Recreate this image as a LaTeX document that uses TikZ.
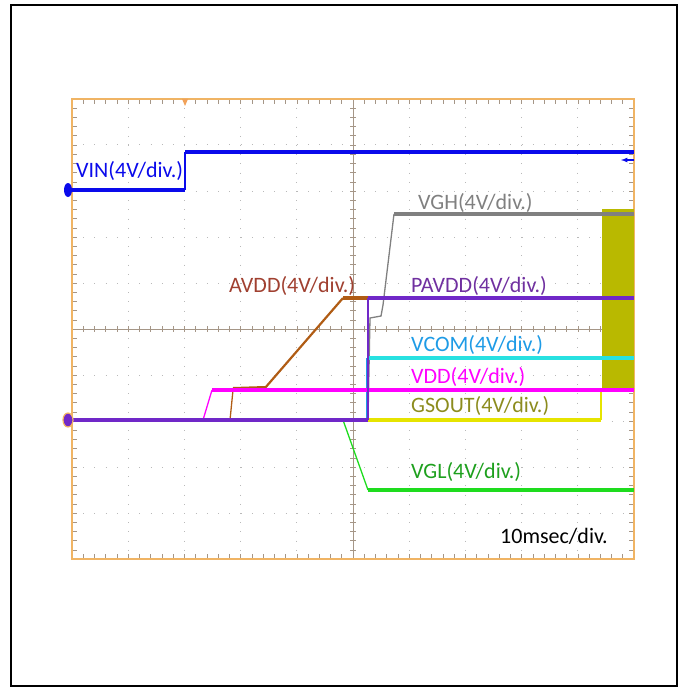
\documentclass[tikz,border=0pt]{standalone}
\usepackage{fontspec}
\setmainfont{Carlito}
\usepackage{tikz}
\usetikzlibrary{arrows,calc}
\usetikzlibrary{positioning}
\definecolor{scopeframe}{RGB}{240,180,100}
\definecolor{gridgray}{RGB}{185,185,185}
\definecolor{axisgray}{RGB}{165,150,135}
\definecolor{vincol}{RGB}{10,10,235}
\definecolor{vghcol}{RGB}{128,128,128}
\definecolor{avddtrace}{RGB}{176,92,20}
\definecolor{avddlabel}{RGB}{160,64,48}
\definecolor{pavddcol}{RGB}{112,40,200}
\definecolor{pavddlabel}{RGB}{112,48,160}
\definecolor{vcomtrace}{RGB}{40,225,225}
\definecolor{vcomlabel}{RGB}{30,155,230}
\definecolor{vddcol}{RGB}{255,0,255}
\definecolor{gsouttrace}{RGB}{230,228,0}
\definecolor{gsoutfill}{RGB}{185,185,0}
\definecolor{gsoutlabel}{RGB}{140,140,30}
\definecolor{vgltrace}{RGB}{30,220,30}
\definecolor{vgllabel}{RGB}{30,160,30}

\begin{document}
\begin{tikzpicture}[x=1pt,y=-1pt]
\tikzstyle{trace}=[line width=4pt]
\tikzstyle{ramp}=[line width=1.3pt]
\tikzstyle{label}=[anchor=base west,inner sep=0pt,font=\fontsize{22}{25}\selectfont]
\tikzstyle{griddotv}=[gridgray,line width=1pt,dash pattern=on 1pt off 8.2pt]
\tikzstyle{griddoth}=[gridgray,line width=1pt,dash pattern=on 1pt off 10.24pt]
\tikzstyle{tick}=[axisgray,line width=0.6pt]

\useasboundingbox (0,0) rectangle (685,687);

%BORDER
\draw[line width=2pt] (11,5) rectangle (677,686);

%%%%%%%%%%%%%%%%%%%%%%%%%%%%%%%%%%%%%%%%%%%%%%%%%%%%%%%%%%%%%%%%%%%%%%%%
%grid
\foreach \i in {1,2,3,4,6,7,8,9} {
  \draw[griddotv] ({72+56.2*\i},108.2) -- ({72+56.2*\i},559);
  \draw[griddoth] (83.24,{99+46*\i}) -- (634,{99+46*\i});
}
%center lines
\draw[axisgray,line width=0.8pt] (72,329) -- (634,329);
\draw[axisgray,line width=0.8pt] (353,99) -- (353,559);
\foreach \k in {1,...,49} {
  \draw[tick] ({72+11.24*\k},326) -- ({72+11.24*\k},332);
  \draw[tick] (350,{99+9.2*\k}) -- (356,{99+9.2*\k});
  \draw[tick] ({72+11.24*\k},99) -- ({72+11.24*\k},104);
  \draw[tick] ({72+11.24*\k},559) -- ({72+11.24*\k},554);
  \draw[tick] (72,{99+9.2*\k}) -- (77,{99+9.2*\k});
  \draw[tick] (634,{99+9.2*\k}) -- (629,{99+9.2*\k});
}
%frame
\draw[scopeframe,line width=2.5pt] (72,99) rectangle (634,559);
\fill[scopeframe!90!red] (182,99) -- (188,99) -- (185,106) -- cycle;

%%%%%%%%%%%%%%%%%%%%%%%%%%%%%%%%%%%%%%%%%%%%%%%%%%%%%%%%%%%%%%%%%%%%%%%%
%traces
%GSOUT block
\fill[gsoutfill] (602,209) rectangle (634,390);
%VGH
\draw[ramp,vghcol] (368,420) -- (370,318) -- (381,316) -- (383,305) -- (394,214);
\draw[trace,vghcol] (394,214) -- (634,214);
%VCOM
\draw[ramp,vcomlabel] (367,420) -- (367,358);
\draw[trace,vcomtrace] (369,358) -- (634,358);
%GSOUT
\draw[trace,gsouttrace] (368,420) -- (601,420);
\draw[ramp,gsouttrace] (601,420) -- (601,390);
%VGL
\draw[trace,vgltrace] (72,420) -- (343,420);
\draw[ramp,vgltrace] (343,420) -- (368,490);
\draw[trace,vgltrace] (368,490) -- (634,490);
%AVDD
\draw[trace,avddtrace] (72,420) -- (230,420);
\draw[ramp,avddtrace] (230,420) -- (233,390);
\draw[trace,avddtrace] (233,389) -- (265,388);
\draw[line width=2.2pt,avddtrace] (265,388) -- (343,298);
\draw[trace,avddtrace] (343,298) -- (368,298);
%VDD
\draw[trace,vddcol] (72,420) -- (203,420);
\draw[ramp,vddcol] (203,420) -- (212,390);
\draw[trace,vddcol] (212,390) -- (634,390);
%PAVDD
\draw[trace,pavddcol] (72,420) -- (368,420);
\draw[ramp,pavddcol] (368,420) -- (368,298);
\draw[trace,pavddcol] (368,298) -- (634,298);
%VIN
\draw[trace,vincol] (72,190) -- (185,190);
\draw[ramp,vincol] (185,190) -- (185,152);
\draw[trace,vincol] (185,152) -- (634,152);
\draw[->,>=latex,vincol,line width=1.2pt] (634,160) -- (621,160);

%markers
\fill[vincol] (68,190) ellipse (4 and 7);
\draw[scopeframe,fill=pavddcol,line width=1.2pt] (68,420) ellipse (5 and 7);

%%%%%%%%%%%%%%%%%%%%%%%%%%%%%%%%%%%%%%%%%%%%%%%%%%%%%%%%%%%%%%%%%%%%%%%%
%labels
\node[label,text=vincol] (vinlabel) at (76,178) {VIN(4V/div.)};
\node[label,text=vghcol] (vghlabel) at (418,209) {VGH(4V/div.)};
\node[label,text=avddlabel] (avddlabel) at (229,292) {AVDD(4V/div.)};
\node[label,text=pavddlabel] (pavddlabel) at (411,292) {PAVDD(4V/div.)};
\node[label,text=vcomlabel] (vcomlabel) at (411,351) {VCOM(4V/div.)};
\node[label,text=vddcol] (vddlabel) at (411,383) {VDD(4V/div.)};
\node[label,text=gsoutlabel] (gsoutlabel) at (411,412) {GSOUT(4V/div.)};
\node[label,text=vgllabel] (vgllabel) at (411,478) {VGL(4V/div.)};
\node[label] (timebase) at (500,543) {10msec/div.};

\end{tikzpicture}
\end{document}
